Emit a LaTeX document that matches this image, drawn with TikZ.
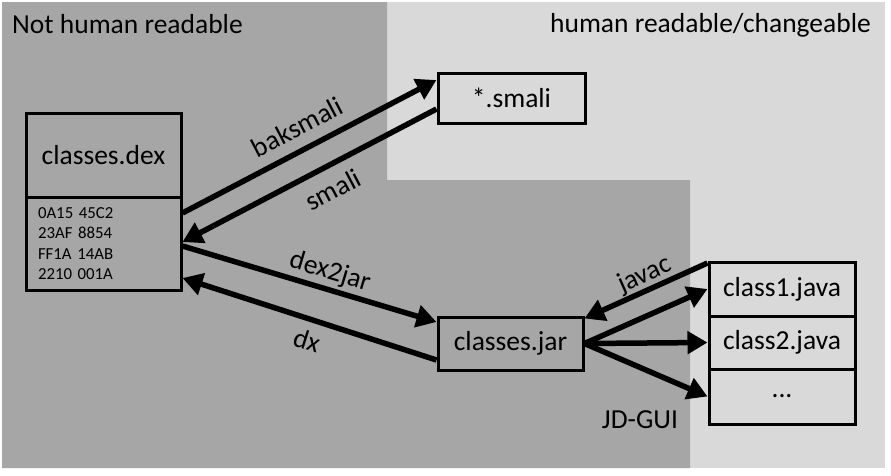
\documentclass[tikz,border=0pt]{standalone}
\usepackage{fontspec}
\setmainfont{Carlito}
\usetikzlibrary{arrows.meta,calc}
\definecolor{darkbg}{HTML}{A6A6A6}
\definecolor{lightbg}{HTML}{D9D9D9}
\begin{document}
\begin{tikzpicture}[x=1pt,y=-1pt,
  box/.style={draw=black,line width=3pt,inner sep=0pt,font=\fontsize{27.5}{33}\selectfont},
  lbl/.style={inner sep=0pt,font=\fontsize{27.5}{33}\selectfont},
  arr/.style={line width=5.5pt,-{Triangle[length=20pt,width=22pt]}}
]
% background
\useasboundingbox (0,0) rectangle (891,475);
\fill[white] (0,0) rectangle (891,475);
\fill[lightbg] (2,2) rectangle (885,468);
\fill[darkbg] (2,2) -- (387,2) -- (387,180) -- (690,180) -- (690,468) -- (2,468) -- cycle;
\node[lbl,anchor=base west] (tnot) at (12,33) {Not human readable};
\node[lbl,anchor=base east] (thum) at (871,32) {human readable/changeable};

% nodes
\node[box,minimum width=155pt,minimum height=84pt] (dextop) at (103.5,155) {classes.dex};
\node[box,minimum width=155pt,minimum height=93pt,text width=131pt,align=left,
      font=\fontsize{16.8}{20.3}\selectfont] (dexhex) at (103.5,243.5)
      {0A15 45C2\\23AF 8854\\FF1A 14AB\\2210 001A};
\node[box,fill=lightbg,minimum width=147pt,minimum height=50pt] (smali) at (511.5,98) {*.smali};
\node[box,minimum width=145pt,minimum height=53pt] (jar) at (510.5,343.5) {classes.jar};
\node[box,fill=lightbg,minimum width=146pt,minimum height=54pt] (c1) at (782,289) {class1.java};
\node[box,fill=lightbg,minimum width=146pt,minimum height=53pt] (c2) at (782,342.5) {class2.java};
\node[box,fill=lightbg,minimum width=146pt,minimum height=55pt] (c3) at (782,396.5) {...};

% connectors
\draw[arr] ($(dexhex.east)+(0,-30.5)$) -- ($(smali.west)+(0,-18)$);
\draw[arr] ($(smali.west)+(0,11)$) -- ($(dexhex.east)+(0,-1.5)$);
\draw[arr] ($(dexhex.east)+(0,2.5)$) -- ($(jar.west)+(0,-21.5)$);
\draw[arr] ($(jar.west)+(0,16.5)$) -- ($(dexhex.east)+(0,34.5)$);
\draw[arr] ($(c1.west)+(0,-26)$) -- ($(jar.east)+(0,-25)$);
\draw[arr] (jar.east) -- (c1.west);
\draw[arr] (jar.east) -- (c2.west);
\draw[arr] (jar.east) -- (c3.west);

% labels
\node[lbl,rotate=27.5] (lbak) at (297,127) {baksmali};
\node[lbl,rotate=27.6] (lsma) at (333,190) {smali};
\node[lbl,rotate=-16.7] (ld2j) at (330,272) {dex2jar};
\node[lbl,rotate=-17.7] (ldx) at (307,340) {dx};
\node[lbl,rotate=24] (ljav) at (645,275) {javac};
\node[lbl,anchor=base] (ljd) at (640,428) {JD-GUI};
\end{tikzpicture}
\end{document}
